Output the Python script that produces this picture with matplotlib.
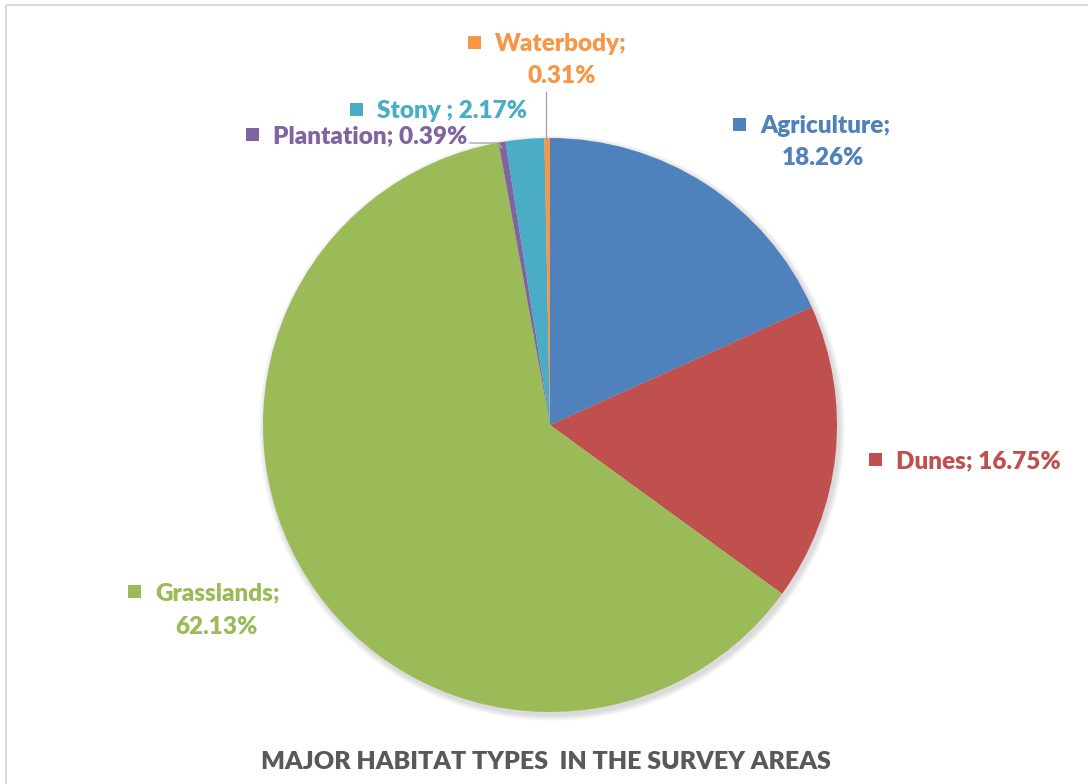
import matplotlib
matplotlib.use("Agg")
import matplotlib.pyplot as plt
from matplotlib.patches import Rectangle, Circle

# ---------------------------------------------------------------
# data
# ---------------------------------------------------------------
categories = ["Agriculture", "Dunes", "Grasslands", "Plantation", "Stony ", "Waterbody"]
shares = [18.26, 16.75, 62.13, 0.39, 2.17, 0.31]
colors = ["#4F81BD", "#C0504D", "#9BBB59", "#8064A2", "#4BACC6", "#F79646"]
title = "MAJOR HABITAT TYPES  IN THE SURVEY AREAS"

# label layout in pixels: marker x, first line y, second line center x (None = one line)
label_pos = {
    "Agriculture": (740, 126, 823, 158),
    "Dunes": (876, 461, None, None),
    "Grasslands": (135, 593, 216, 627),
    "Plantation": (253, 136, None, None),
    "Stony ": (357, 111, None, None),
    "Waterbody": (475, 44, 562, 76),
}

plt.rcParams["font.family"] = ["Lato", "DejaVu Sans"]

W, H = 1088, 784
fig = plt.figure(figsize=(W / 100, H / 100), dpi=100)
ax = fig.add_axes([0, 0, 1, 1])

cx, cy, r = 550, 425, 287

# soft shadow behind the pie
for k in range(6):
    ax.add_patch(Circle((cx + 2, cy + 3), r + 1 + k, color="black",
                        alpha=0.025, lw=0, zorder=0))

# y axis is flipped below (pixel coords), so counterclock=True draws clockwise on screen
ax.pie(shares, colors=colors, startangle=-90, counterclock=True,
       center=(cx, cy), radius=r, wedgeprops=dict(linewidth=0),
       frame=True)

ax.set_xlim(0, W)
ax.set_ylim(H, 0)
ax.set_aspect("auto")
ax.axis("off")

# data labels
fs = 17.5
wt = "heavy"
for cat, val, col in zip(categories, shares, colors):
    mx, y1, cx2, y2 = label_pos[cat]
    ax.add_patch(Rectangle((mx - 7, y1 - 8), 13, 13, color=col, lw=0))
    if cx2 is None:
        ax.text(mx + 20, y1, f"{cat}; {val:.2f}%", color=col, fontsize=fs,
                fontweight=wt, ha="left", va="center")
    else:
        ax.text(mx + 20, y1, f"{cat};", color=col, fontsize=fs,
                fontweight=wt, ha="left", va="center")
        ax.text(cx2, y2, f"{val:.2f}%", color=col, fontsize=fs,
                fontweight=wt, ha="center", va="center")

# leader lines for the tiny slices
ax.plot([546, 546], [92, 140], color="#A6A6A6", lw=1)
ax.plot([470, 498, 502], [143, 143, 148], color="#A6A6A6", lw=1)

# chart border
ax.add_patch(Rectangle((6, 5), 1200, 900, fill=False, edgecolor="#D9D9D9", lw=1.5))

ax.text(546, 762, title, color="#595959", fontsize=18, fontweight=wt,
        ha="center", va="center")

fig.savefig("out.png", dpi=100)
